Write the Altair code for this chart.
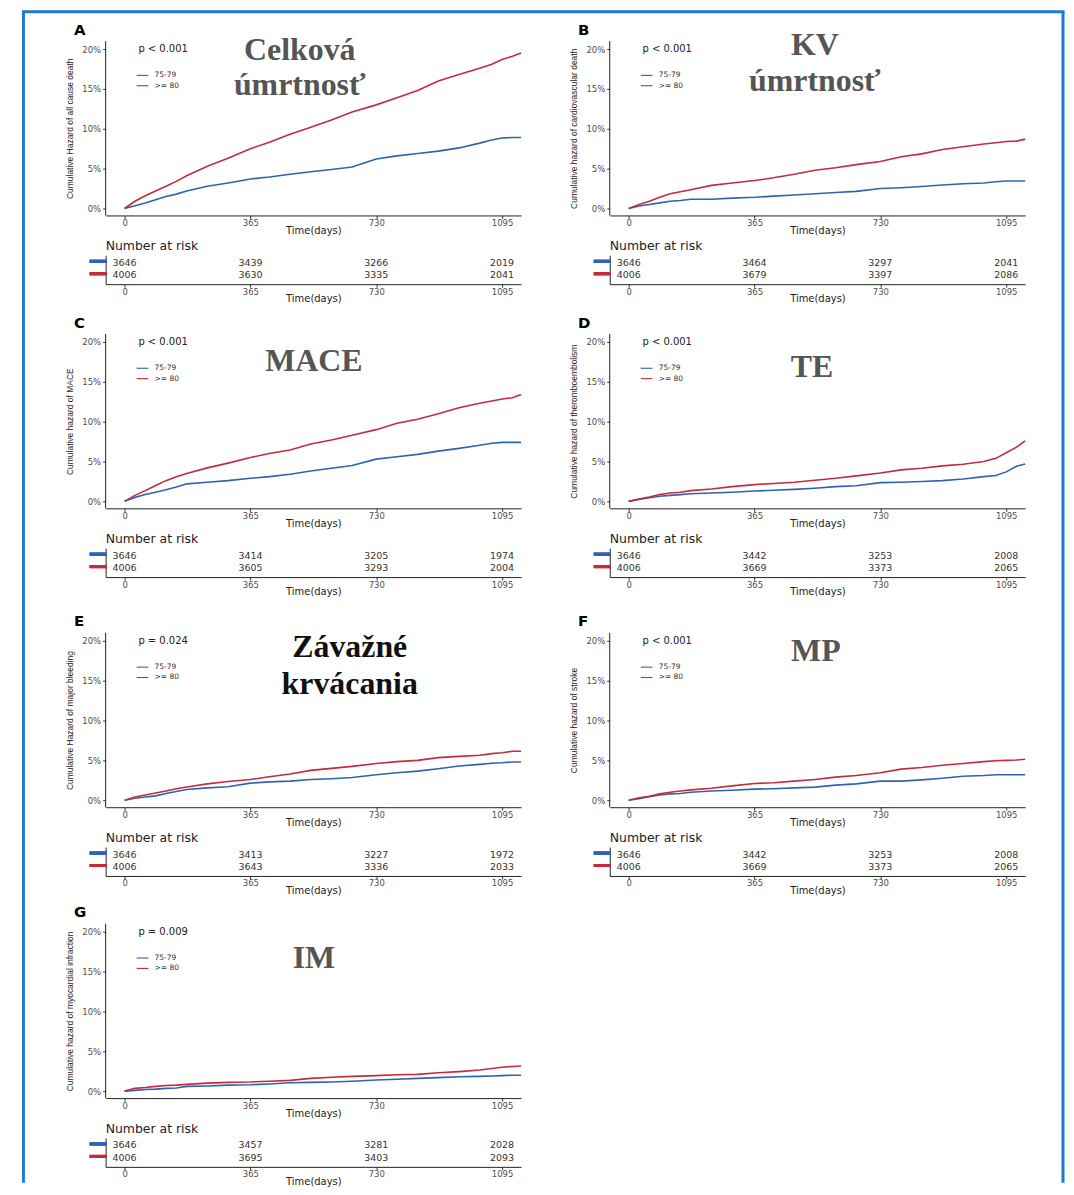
import altair as alt
import pandas as pd

# ---------------- data ----------------
TIMES = [0, 30, 60, 90, 120, 150, 180, 240, 300, 365, 420, 480, 540, 600, 660,
         730, 790, 850, 910, 970, 1030, 1065, 1095, 1125, 1150]
GROUPS = ["75-79", ">= 80"]
RISK_TIMES = [0, 365, 730, 1095]
Y_TICKS = [0, 5, 10, 15, 20]

# cumulative hazard (%) per panel and age group
A_75_79 = [0, 0.35, 0.7, 1.1, 1.5, 1.8, 2.2, 2.8, 3.2, 3.7, 3.95, 4.3, 4.6, 4.9, 5.2,
           6.2, 6.6, 6.9, 7.2, 7.6, 8.2, 8.6, 8.85, 8.9, 8.9]
A_80 = [0, 0.9, 1.6, 2.2, 2.8, 3.4, 4.1, 5.3, 6.3, 7.5, 8.3, 9.3, 10.2, 11.1, 12.1,
        13.0, 13.9, 14.8, 16.0, 16.8, 17.6, 18.1, 18.7, 19.1, 19.5]
B_75_79 = [0, 0.3, 0.5, 0.7, 0.9, 1.0, 1.15, 1.15, 1.3, 1.4, 1.55, 1.7, 1.85, 2.0, 2.15,
           2.5, 2.6, 2.75, 2.95, 3.1, 3.2, 3.35, 3.45, 3.45, 3.45]
B_80 = [0, 0.5, 0.9, 1.4, 1.85, 2.1, 2.35, 2.9, 3.2, 3.5, 3.85, 4.3, 4.8, 5.1, 5.5,
        5.9, 6.5, 6.85, 7.4, 7.75, 8.1, 8.25, 8.4, 8.45, 8.7]
C_75_79 = [0, 0.5, 0.85, 1.15, 1.45, 1.8, 2.2, 2.4, 2.6, 2.9, 3.1, 3.4, 3.8, 4.15, 4.5,
           5.3, 5.6, 5.9, 6.3, 6.65, 7.05, 7.3, 7.4, 7.4, 7.4]
C_80 = [0, 0.75, 1.35, 2.0, 2.6, 3.1, 3.5, 4.2, 4.8, 5.5, 6.0, 6.45, 7.2, 7.7, 8.3,
        9.0, 9.8, 10.3, 11.0, 11.75, 12.3, 12.6, 12.85, 13.0, 13.4]
D_75_79 = [0, 0.25, 0.45, 0.65, 0.75, 0.85, 0.95, 1.05, 1.15, 1.3, 1.4, 1.5, 1.65, 1.85, 1.95,
           2.35, 2.4, 2.5, 2.6, 2.8, 3.1, 3.25, 3.7, 4.4, 4.7]
D_80 = [0, 0.3, 0.55, 0.85, 1.05, 1.15, 1.35, 1.55, 1.85, 2.1, 2.25, 2.4, 2.65, 2.9, 3.2,
        3.55, 3.95, 4.15, 4.45, 4.65, 5.0, 5.4, 6.1, 6.8, 7.6]
E_75_79 = [0, 0.25, 0.4, 0.55, 0.85, 1.1, 1.35, 1.55, 1.7, 2.15, 2.3, 2.4, 2.6, 2.7, 2.85,
           3.2, 3.45, 3.65, 3.95, 4.3, 4.5, 4.65, 4.7, 4.8, 4.8]
E_80 = [0, 0.4, 0.65, 0.9, 1.15, 1.45, 1.65, 2.05, 2.35, 2.6, 2.95, 3.3, 3.75, 4.0, 4.25,
        4.6, 4.85, 5.0, 5.35, 5.5, 5.65, 5.85, 5.95, 6.15, 6.15]
F_75_79 = [0, 0.2, 0.45, 0.65, 0.8, 0.85, 1.0, 1.15, 1.25, 1.4, 1.45, 1.55, 1.65, 1.9, 2.05,
           2.4, 2.4, 2.55, 2.75, 3.0, 3.1, 3.2, 3.2, 3.2, 3.2]
F_80 = [0, 0.3, 0.5, 0.8, 1.0, 1.15, 1.3, 1.5, 1.8, 2.1, 2.2, 2.4, 2.6, 2.9, 3.1,
        3.45, 3.9, 4.1, 4.4, 4.6, 4.85, 4.95, 5.0, 5.05, 5.15]
G_75_79 = [0, 0.1, 0.2, 0.25, 0.35, 0.4, 0.6, 0.65, 0.75, 0.8, 0.9, 1.05, 1.1, 1.15, 1.25,
           1.4, 1.5, 1.6, 1.7, 1.8, 1.85, 1.9, 1.95, 2.0, 2.0]
G_80 = [0, 0.35, 0.45, 0.6, 0.7, 0.75, 0.85, 1.0, 1.1, 1.15, 1.25, 1.35, 1.6, 1.75, 1.85,
        1.95, 2.05, 2.1, 2.3, 2.45, 2.65, 2.85, 3.0, 3.1, 3.15]

# number at risk at RISK_TIMES
A_RISK_75_79 = [3646, 3439, 3266, 2019]
A_RISK_80 = [4006, 3630, 3335, 2041]
B_RISK_75_79 = [3646, 3464, 3297, 2041]
B_RISK_80 = [4006, 3679, 3397, 2086]
C_RISK_75_79 = [3646, 3414, 3205, 1974]
C_RISK_80 = [4006, 3605, 3293, 2004]
D_RISK_75_79 = [3646, 3442, 3253, 2008]
D_RISK_80 = [4006, 3669, 3373, 2065]
E_RISK_75_79 = [3646, 3413, 3227, 1972]
E_RISK_80 = [4006, 3643, 3336, 2033]
F_RISK_75_79 = [3646, 3442, 3253, 2008]
F_RISK_80 = [4006, 3669, 3373, 2065]
G_RISK_75_79 = [3646, 3457, 3281, 2028]
G_RISK_80 = [4006, 3695, 3403, 2093]

LETTERS = ["A", "B", "C", "D", "E", "F", "G"]
Y_TITLES = [
    "Cumulative Hazard of all cause death",
    "Cumulative hazard of cardiovascular death",
    "Cumulative hazard of MACE",
    "Cumulative hazard of theromboembolism",
    "Cumulative Hazard of major bleeding",
    "Cumulative hazard of stroke",
    "Cumulative hazard of myocardial infraction",
]
P_VALUES = ["p < 0.001", "p < 0.001", "p < 0.001", "p < 0.001",
            "p = 0.024", "p < 0.001", "p = 0.009"]
HEADINGS = [
    ["Celková", "úmrtnosť"],
    ["KV", "úmrtnosť"],
    ["MACE"],
    ["TE"],
    ["Závažné", "krvácania"],
    ["MP"],
    ["IM"],
]

SERIES = {
    "A": (A_75_79, A_80, A_RISK_75_79, A_RISK_80),
    "B": (B_75_79, B_80, B_RISK_75_79, B_RISK_80),
    "C": (C_75_79, C_80, C_RISK_75_79, C_RISK_80),
    "D": (D_75_79, D_80, D_RISK_75_79, D_RISK_80),
    "E": (E_75_79, E_80, E_RISK_75_79, E_RISK_80),
    "F": (F_75_79, F_80, F_RISK_75_79, F_RISK_80),
    "G": (G_75_79, G_80, G_RISK_75_79, G_RISK_80),
}

# ---------------- layout / style ----------------
COLORS = ["#2f63b1", "#c52b3a"]
BORDER = "#1f78d1"
SANS = "DejaVu Sans"
NARROW = "Liberation Sans"
SERIF = "Liberation Serif"

W = 417
H = 175
TH = 29
XDOM = [-55, 1150]
YBOT = -0.875
YTOP = 21.0
PXPCT = H / (YTOP - YBOT)

# per panel: extra top room (px), heading x (days), heading baselines (%), heading colour
LAYOUT = {
    "A": dict(extra=0, hx=508, hy=[18.6, 14.25], hc="#555555"),
    "B": dict(extra=0, hx=540, hy=[19.3, 14.7], hc="#555555"),
    "C": dict(extra=10, hx=549, hy=[16.4], hc="#555555"),
    "D": dict(extra=10, hx=532, hy=[15.6], hc="#555555"),
    "E": dict(extra=16, hx=653, hy=[18.0, 13.3], hc="#111111"),
    "F": dict(extra=16, hx=543, hy=[17.5], hc="#555555"),
    "G": dict(extra=8, hx=549, hy=[15.5], hc="#555555"),
}
LEG_X = [35, 69]
LEG_LABEL_X = 87
LEG_Y = [16.7, 15.4]
PVAL_X = 40
LETTER_X = -147
LETTER_Y = 21.8

ONE = pd.DataFrame({"a": [0]})
color_enc = alt.Color("group:N", scale=alt.Scale(domain=GROUPS, range=COLORS), legend=None)


def plot_panel(i, border=False):
    key = LETTERS[i]
    lay = LAYOUT[key]
    extra = lay["extra"]
    young, old, _, _ = SERIES[key]
    df = pd.DataFrame({
        "time": TIMES + TIMES,
        "haz": young + old,
        "group": [GROUPS[0]] * len(TIMES) + [GROUPS[1]] * len(TIMES),
    })
    ytop = YTOP + extra / PXPCT
    x = alt.X("time:Q", scale=alt.Scale(domain=XDOM, nice=False, zero=False),
              axis=alt.Axis(values=RISK_TIMES, format="d", title="Time(days)", titleY=15,
                            titleBaseline="middle", labelFlush=False, labelPadding=0))
    y = alt.Y("haz:Q", scale=alt.Scale(domain=[YBOT, ytop], nice=False, zero=False),
              axis=alt.Axis(values=Y_TICKS, labelExpr="datum.value + '%'", domain=False,
                            title=Y_TITLES[i], titleX=-36, titleY=extra + H / 2,
                            titleAngle=270, titleBaseline="middle", titleAlign="center",
                            titleFont=NARROW, titleFontSize=8.5, labelPadding=2))
    layers = [alt.Chart(df).mark_line(strokeWidth=1.6).encode(x=x, y=y, color=color_enc)]
    # y axis line (only over the plotting range)
    layers.append(alt.Chart(ONE).mark_rule(color="#222", strokeWidth=1).encode(
        x=alt.datum(XDOM[0]), y=alt.datum(YBOT), y2=alt.datum(YTOP)))
    # legend
    for g, c, ly in zip(GROUPS, COLORS, LEG_Y):
        layers.append(alt.Chart(ONE).mark_rule(color=c, strokeWidth=1.1).encode(
            x=alt.datum(LEG_X[0]), x2=alt.datum(LEG_X[1]), y=alt.datum(ly)))
        layers.append(alt.Chart(ONE).mark_text(
            text=g, align="left", baseline="middle", font=SANS, fontSize=7.5, color="#333"
        ).encode(x=alt.datum(LEG_LABEL_X), y=alt.datum(ly)))
    # p-value
    layers.append(alt.Chart(ONE).mark_text(
        text=P_VALUES[i], align="left", baseline="middle", font=SANS, fontSize=10, color="#222"
    ).encode(x=alt.datum(PVAL_X), y=alt.datum(20)))
    # panel letter
    layers.append(alt.Chart(ONE).mark_text(
        text=key, align="left", baseline="alphabetic", font=SANS, fontSize=15,
        fontWeight="bold", color="#000"
    ).encode(x=alt.datum(LETTER_X), y=alt.datum(LETTER_Y)))
    # overlaid Slovak heading
    for txt, hy in zip(HEADINGS[i], lay["hy"]):
        layers.append(alt.Chart(ONE).mark_text(
            text=txt, align="center", baseline="alphabetic", font=SERIF, fontSize=32,
            fontWeight="bold", color=lay["hc"]
        ).encode(x=alt.datum(lay["hx"]), y=alt.datum(hy)))
    if border:
        bl, br, bt, bb = -82.5, 961, -29.5, 1146
        layers.append(alt.Chart(ONE).mark_rule(color=BORDER, strokeWidth=3).encode(
            x=alt.value(bl), y=alt.value(bt), y2=alt.value(bb)))
        layers.append(alt.Chart(ONE).mark_rule(color=BORDER, strokeWidth=3).encode(
            x=alt.value(br), y=alt.value(bt), y2=alt.value(bb)))
        layers.append(alt.Chart(ONE).mark_rule(color=BORDER, strokeWidth=3).encode(
            x=alt.value(bl - 1.5), x2=alt.value(br + 1.5), y=alt.value(bt)))
    return alt.layer(*layers).properties(width=W, height=H + extra)


def table_panel(i):
    key = LETTERS[i]
    _, _, ry, ro = SERIES[key]
    df = pd.DataFrame({
        "time": RISK_TIMES + RISK_TIMES,
        "row": [2] * len(RISK_TIMES) + [1] * len(RISK_TIMES),
        "n": [str(v) for v in ry + ro],
        "group": [GROUPS[0]] * len(RISK_TIMES) + [GROUPS[1]] * len(RISK_TIMES),
    })
    x = alt.X("time:Q", scale=alt.Scale(domain=XDOM, nice=False, zero=False),
              axis=alt.Axis(values=RISK_TIMES, format="d", title="Time(days)", titleY=14.5,
                            titleBaseline="middle", labelFlush=False, labelPadding=0))
    y = alt.Y("row:Q", scale=alt.Scale(domain=[0.28, 2.6], nice=False, zero=False),
              axis=alt.Axis(labels=False, ticks=False, title=None))
    nums = alt.Chart(df).mark_text(
        font=SANS, fontSize=9.5, color="#333", align="center", baseline="middle"
    ).encode(x=x, y=y, text="n:N")
    bars = alt.Chart(df).mark_rule(strokeWidth=3, yOffset=-1.5).encode(
        x=alt.value(-16), x2=alt.value(1), y=alt.Y("row:Q"), color=color_enc)
    head = alt.Chart(ONE).mark_text(
        text="Number at risk", align="left", baseline="middle", font=SANS,
        fontSize=12.5, color="#222"
    ).encode(x=alt.value(0), y=alt.value(-9))
    return alt.layer(nums, bars, head).properties(width=W, height=TH)


placeholder = alt.Chart(ONE).mark_point(opacity=0).encode(
    x=alt.X("a:Q", axis=None), y=alt.Y("a:Q", axis=None)
).properties(width=W, height=H + LAYOUT["G"]["extra"])

items = [
    plot_panel(0, border=True), plot_panel(1), table_panel(0), table_panel(1),
    plot_panel(2), plot_panel(3), table_panel(2), table_panel(3),
    plot_panel(4), plot_panel(5), table_panel(4), table_panel(5),
    plot_panel(6), placeholder, table_panel(6),
]

chart = alt.concat(*items, columns=2).properties(
    align="each",
    bounds="flush",
    spacing={"row": 40, "column": 89},
    padding={"left": 12, "top": 0, "right": 0, "bottom": 0},
    background="white",
).configure_view(
    strokeWidth=0
).configure_axis(
    grid=False,
    domainColor="#222",
    domainWidth=1,
    tickColor="#333",
    tickSize=3,
    labelColor="#4d4d4d",
    labelFont=SANS,
    labelFontSize=8.5,
    titleFont=SANS,
    titleFontSize=10,
    titleFontWeight="normal",
    titleColor="#222",
)

chart.save("out.html", embed_options={"renderer": "svg", "actions": False})
